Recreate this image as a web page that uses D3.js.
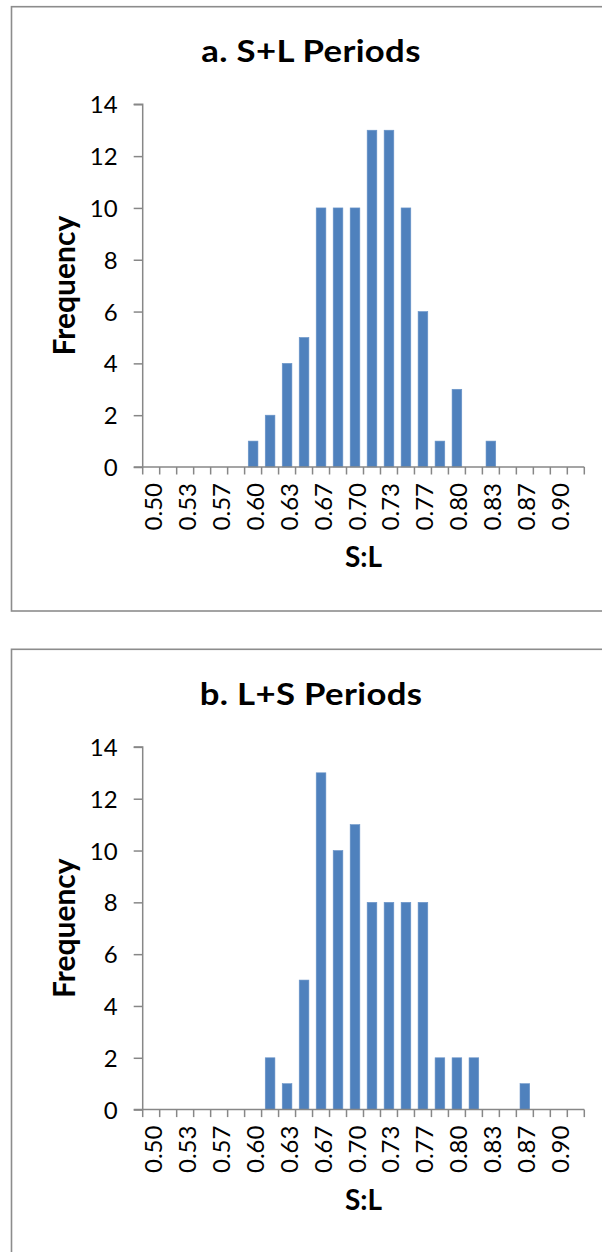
<!DOCTYPE html>
<html>
<head>
<meta charset="utf-8">
<script src="https://cdn.jsdelivr.net/npm/d3@7/dist/d3.min.js"></script>
<style>
  html, body { margin: 0; padding: 0; background: #ffffff; }
  svg { display: block; }
</style>
</head>
<body>
<script>
// ---- data ----
const categories = ["0.50","0.52","0.53","0.55","0.57","0.58","0.60","0.62","0.63","0.65",
                    "0.67","0.68","0.70","0.72","0.73","0.75","0.77","0.78","0.80","0.82",
                    "0.83","0.85","0.87","0.88","0.90","0.92"];
const tickLabels = ["0.50","0.53","0.57","0.60","0.63","0.67","0.70","0.73","0.77","0.80","0.83","0.87","0.90"];
const valuesSL = [0,0,0,0,0,0,1,2,4,5,10,10,10,13,13,10,6,1,3,0,1,0,0,0,0,0];
const valuesLS = [0,0,0,0,0,0,0,2,1,5,13,10,11,8,8,8,8,2,2,2,0,0,1,0,0,0];
const yTicks = [0,2,4,6,8,10,12,14];
const titles = ["a. S+L Periods", "b. L+S Periods"];
const xTitle = "S:L";
const yTitle = "Frequency";

// ---- layout ----
const W = 602, H = 1252;
const panelOffset = 642.6;
const plotLeft = 142.7, plotRight = 584.3, plotTop = 104.3, plotBottom = 467;
const axisColor = "#878787";
const barColor = "#4f81bd";
const fontFam = "Lato, 'Open Sans', 'Liberation Sans', sans-serif";

const svg = d3.select("body").append("svg").attr("width", W).attr("height", H);

const x = d3.scaleBand().domain(categories).range([plotLeft, plotRight])
  .paddingInner(0.43).paddingOuter(0.215);
const y = d3.scaleLinear().domain([0, 14]).range([plotBottom, plotTop]);

function drawPanel(idx, values) {
  const oy = idx * panelOffset;
  const g = svg.append("g").attr("transform", `translate(0,${oy})`);

  // panel frame (extends past right edge)
  g.append("rect")
    .attr("x", 11.5).attr("y", 6.7)
    .attr("width", 620).attr("height", 604.3)
    .attr("fill", "none").attr("stroke", "#8c8c8c").attr("stroke-width", 1.6);

  // title
  g.append("text")
    .attr("transform", "translate(311,62) scale(1.12,1)")
    .attr("text-anchor", "middle")
    .style("font-family", fontFam).style("font-weight", "bold").style("font-size", "31px")
    .style("letter-spacing", "0.3px")
    .attr("fill", "#000").text(titles[idx]);

  // bars
  g.append("g").selectAll("rect").data(categories.map((c, i) => ({c, v: values[i]})))
    .join("rect")
    .attr("x", d => x(d.c)).attr("width", x.bandwidth())
    .attr("y", d => y(d.v)).attr("height", d => y(0) - y(d.v))
    .attr("fill", barColor)
    .attr("stroke", "#6a94c8").attr("stroke-width", 0.6);

  // y axis
  const yAxis = d3.axisLeft(y).tickValues(yTicks).tickSize(9).tickPadding(0).tickFormat(d3.format("d"));
  const ya = g.append("g").attr("transform", `translate(${plotLeft},0)`).call(yAxis);
  ya.select(".domain").attr("stroke", axisColor).attr("stroke-width", 1.5)
    .attr("d", `M-9,${plotTop}H0V${plotBottom}`);
  ya.selectAll(".tick line").attr("stroke", axisColor).attr("stroke-width", 1.5);
  ya.selectAll(".tick text")
    .attr("x", -25).attr("dy", null).attr("y", 8.5)
    .style("font-family", fontFam).style("font-size", "24px").attr("fill", "#000");

  // x axis baseline
  const xa = g.append("g");
  xa.append("line")
    .attr("x1", plotLeft - 9).attr("x2", plotRight)
    .attr("y1", y(0)).attr("y2", y(0))
    .attr("stroke", axisColor).attr("stroke-width", 1.5);
  // boundary ticks (category edges)
  const edges = d3.range(categories.length + 1).map(i => x.range()[0] + i * x.step());
  xa.selectAll("line.edge").data(edges).join("line").attr("class", "edge")
    .attr("x1", d => d).attr("x2", d => d)
    .attr("y1", y(0)).attr("y2", y(0) + 7.5)
    .attr("stroke", axisColor).attr("stroke-width", 1.5);
  // rotated labels
  xa.selectAll("text.lab").data(tickLabels).join("text").attr("class", "lab")
    .attr("transform", d => {
      const cx = x(d) + x.bandwidth() / 2 + 10.5;
      return `translate(${cx},${y(0) + 16}) rotate(-90)`;
    })
    .attr("text-anchor", "end")
    .style("font-family", fontFam).style("font-size", "24px").attr("fill", "#000")
    .text(d => d);

  // axis titles
  g.append("text").attr("x", (plotLeft + plotRight) / 2).attr("y", 567)
    .attr("text-anchor", "middle")
    .style("font-family", fontFam).style("font-weight", "bold").style("font-size", "28px")
    .attr("fill", "#000").text(xTitle);
  g.append("text")
    .attr("transform", `translate(75,${(plotTop + plotBottom) / 2}) rotate(-90)`)
    .attr("text-anchor", "middle")
    .style("font-family", fontFam).style("font-weight", "bold").style("font-size", "30px")
    .attr("fill", "#000").text(yTitle);
}

drawPanel(0, valuesSL);
drawPanel(1, valuesLS);
</script>
</body>
</html>
